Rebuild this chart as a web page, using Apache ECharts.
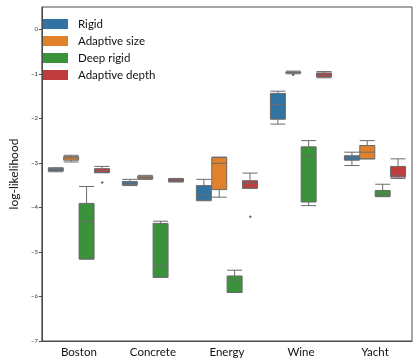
<!DOCTYPE html>
<html>
<head>
    <meta charset="utf-8">
    <title>log-likelihood</title>
    <script src="https://cdn.jsdelivr.net/npm/echarts@6/dist/echarts.min.js"></script>
</head>
<body style="margin:0">
<div id="chart" style="width:420px;height:362px"></div>
<script>
    // 数据：[min, Q1, median, Q3, max]
    var categories = ['Boston', 'Concrete', 'Energy', 'Wine', 'Yacht'];
    var seriesNames = ['Rigid', 'Adaptive size', 'Deep rigid', 'Adaptive depth'];
    var rigid = [[-3.20, -3.18, -3.15, -3.12, -3.11], [-3.51, -3.49, -3.45, -3.42, -3.37], [-3.85, -3.84, -3.72, -3.51, -3.37], [-2.13, -2.02, -1.69, -1.44, -1.39], [-3.06, -2.94, -2.89, -2.84, -2.76]];
    var adaptiveSize = [[-2.98, -2.94, -2.89, -2.86, -2.83], [-3.37, -3.36, -3.33, -3.30, -3.28], [-3.77, -3.60, -3.01, -2.88, -2.87], [-1.00, -0.98, -0.97, -0.96, -0.94], [-2.91, -2.91, -2.76, -2.61, -2.50]];
    var deepRigid = [[-5.16, -5.16, -4.32, -3.91, -3.53], [-5.57, -5.57, -5.32, -4.36, -4.31], [-5.91, -5.91, -5.63, -5.54, -5.41], [-3.96, -3.88, -2.84, -2.64, -2.50], [-3.76, -3.75, -3.70, -3.62, -3.48]];
    var adaptiveDepth = [[-3.22, -3.22, -3.18, -3.13, -3.08], [-3.43, -3.42, -3.39, -3.36, -3.35], [-3.57, -3.57, -3.46, -3.40, -3.23], [-1.09, -1.07, -1.02, -0.98, -0.95], [-3.35, -3.32, -3.29, -3.08, -2.91]];
    // 离群点：[类别序号, 系列序号, 值]
    var outliers = [[0, 3, -3.44], [2, 3, -4.21], [3, 1, -1.02]];
    var yTicks = [-7, -6, -5, -4, -3, -2, -1, 0];

    var COLOR_ALL = ['#3274a1', '#e1812c', '#3a923a', '#c03d3e'];
    var allData = [rigid, adaptiveSize, deepRigid, adaptiveDepth];

    var chart = echarts.init(document.getElementById('chart'));

    // 每个箱子在类别内的偏移（与 echarts boxplot 布局一致）
    var n = seriesNames.length;
    var avail = 0.8;
    var gap = avail / n * 0.3;
    var bw = (avail - gap * (n - 1)) / n;
    function offsetOf(s) {
        return bw / 2 - avail / 2 + s * (bw + gap);
    }

    var series = [];
    for (var i = 0; i < n; i++) {
        series.push({
            name: seriesNames[i],
            type: 'boxplot',
            xAxisIndex: 0,
            boxWidth: [15, 15],
            data: allData[i],
            itemStyle: {
                color: COLOR_ALL[i],
                borderColor: '#6b6b6b',
                borderWidth: 1
            }
        });
    }
    series.push({
        type: 'scatter',
        xAxisIndex: 1,
        symbol: 'diamond',
        symbolSize: 3,
        itemStyle: {color: '#3f3f3f'},
        data: outliers.map(function (o) {
            return [o[0] + offsetOf(o[1]) * 0.98, o[2]];
        })
    });

    var tickFmt = function (v) {
        return String(v).replace('-', '\u2212');
    };

    var option = {
        animation: false,
        textStyle: {fontFamily: 'Lato'},
        grid: {
            left: 32, right: 8, top: 7, bottom: 21,
            show: true, borderColor: '#4a4a4a', borderWidth: 1
        },
        legend: {
            orient: 'vertical',
            left: 43, top: 18,
            padding: 0,
            itemWidth: 25, itemHeight: 10, itemGap: 5,
            icon: 'rect',
            data: seriesNames.map(function (name, i) {
                return {name: name, itemStyle: {color: COLOR_ALL[i], borderWidth: 0}};
            }),
            textStyle: {fontSize: 11.5, color: '#111', padding: [0, 0, 0, 5]}
        },
        xAxis: [{
            type: 'category',
            data: categories,
            axisLine: {onZero: false, lineStyle: {color: '#4a4a4a'}},
            axisTick: {alignWithLabel: true, length: 3, lineStyle: {color: '#4a4a4a'}},
            axisLabel: {fontSize: 11.5, color: '#111', margin: 5}
        }, {
            type: 'value',
            min: -0.5, max: 4.5,
            show: false,
            axisLine: {onZero: false}
        }],
        yAxis: {
            type: 'value',
            min: -7, max: 0.5, interval: 1,
            name: 'log-likelihood',
            nameLocation: 'middle',
            nameGap: 21,
            nameTextStyle: {fontSize: 12, color: '#111'},
            splitLine: {show: false},
            axisLine: {show: true, onZero: false, lineStyle: {color: '#4a4a4a'}},
            axisTick: {show: true, length: 3, customValues: yTicks, lineStyle: {color: '#4a4a4a'}},
            axisLabel: {fontSize: 6, color: '#333', margin: 4, customValues: yTicks, formatter: tickFmt}
        },
        series: series
    };
    chart.setOption(option);
</script>
</body>
</html>
